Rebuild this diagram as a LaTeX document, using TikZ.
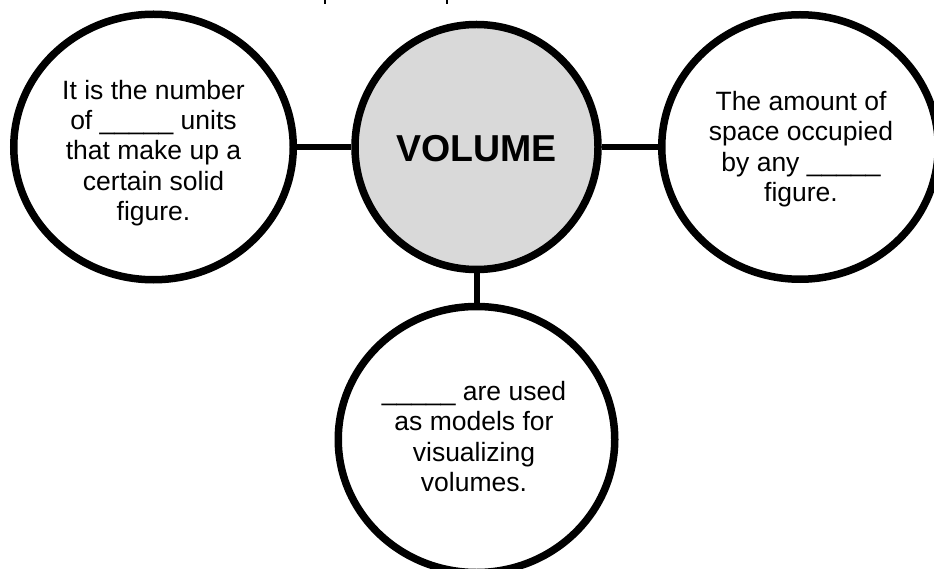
\documentclass[tikz,border=0pt]{standalone}
\usepackage{fontspec}
\setmainfont{Liberation Sans}
\usetikzlibrary{shapes.geometric}
\definecolor{hubgray}{HTML}{D9D9D9}
\tikzset{
  bubble/.style={ellipse, draw=black, line width=7.5pt, fill=white, inner sep=0pt},
  hub/.style={bubble, fill=hubgray},
  link/.style={line width=6pt},
  bubbletext/.style={align=center, inner sep=0pt, font=\fontsize{26.5}{30.4}\selectfont},
  hubtext/.style={inner sep=0pt, font=\fontsize{37.5}{42}\selectfont\bfseries},
  tick/.style={line width=2pt}
}
\begin{document}
\begin{tikzpicture}[x=1pt,y=-1pt]
\useasboundingbox (0,0) rectangle (934,569);
% nodes
\node[bubble, minimum width=279.5pt, minimum height=265.5pt] (L) at (153.5,147) {};
\node[bubble, minimum width=276.5pt, minimum height=264.5pt] (R) at (800,147) {};
\node[hub, minimum width=243pt, minimum height=245pt] (C) at (476.5,147) {};
\node[bubble, minimum width=276.5pt, minimum height=266pt] (B) at (476.5,439.5) {};
% connectors
\draw[link] (L) -- (C);
\draw[link] (C) -- (R);
\draw[link] (C) -- (B);
% texts
\node[hubtext, anchor=base] (Ct) at (476.5,162) {VOLUME};
\node[bubbletext] (Lt) at (153.5,153) {It is the number\\of \_\_\_\_\_ units\\that make up a\\certain solid\\figure.};
\node[bubbletext] (Rt) at (801,149) {The amount of\\space occupied\\by any \_\_\_\_\_\\figure.};
\node[bubbletext] (Bt) at (474,436.5) {\_\_\_\_\_ are used\\as models for\\visualizing\\volumes.};
% fragments at top edge
\draw[tick] (324.5,0) -- (324.5,4.5);
\draw[tick] (447,0) -- (447,4.5);
\end{tikzpicture}
\end{document}
